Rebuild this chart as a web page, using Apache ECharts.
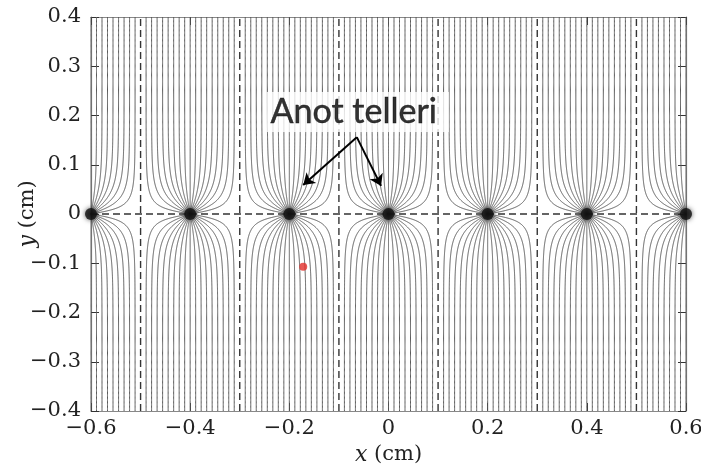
<!DOCTYPE html>
<html>
<head>
<meta charset="utf-8">
<script src="https://cdn.jsdelivr.net/npm/echarts@6/dist/echarts.min.js"></script>
<style>
html, body { margin: 0; padding: 0; background: #fff; }
#chart { width: 701px; height: 469px; }
</style>
</head>
<body>
<div id="chart"></div>
<script>
// anode wires (cm), all at y = 0
const wireX = [-0.6, -0.4, -0.2, 0, 0.2, 0.4, 0.6]
const wirePitch = 0.2
// x of each field line far from the plane, relative to its wire (cm)
const lineOffsets = [-0.0889, -0.0778, -0.0667, -0.0556, -0.0444, -0.0333, -0.0222, -0.0111, 0,
  0.0111, 0.0222, 0.0333, 0.0444, 0.0556, 0.0667, 0.0778, 0.0889]
// cell boundaries (dashed)
const cellEdges = [-0.5, -0.3, -0.1, 0.1, 0.3, 0.5]
const redPoint = [-0.172, -0.107]
const noteText = 'Anot telleri'
const notePos = [-0.062, 0.207]
const arrowFrom = [-0.064, 0.156]
const arrowTo = [[-0.172, 0.059], [-0.015, 0.057]]
const xRange = [-0.6, 0.6]
const yRange = [-0.4, 0.4]

// field line of a wire row: tanh(b) = tan(a) / tan(a_inf), a = pi x / pitch, b = pi y / pitch
const fieldLine = (xw, off, sign) => {
  const k = Math.PI / wirePitch
  const tanInf = Math.tan(off * k)
  const bMax = yRange[1] * k
  const pts = []
  for (let i = 0; i <= 300; i++) {
    const b = bMax * Math.pow(i / 300, 2)
    const a = Math.atan(Math.tanh(b) * tanInf)
    pts.push([xw + a / k, sign * b / k])
  }
  return pts
}

const fieldLines = []
wireX.forEach(xw => {
  lineOffsets.forEach(off => {
    const xe = xw + off
    if (xe < xRange[0] - 1e-9 || xe > xRange[1] + 1e-9) return
    fieldLines.push({ coords: fieldLine(xw, off, 1) })
    fieldLines.push({ coords: fieldLine(xw, off, -1) })
  })
})

const dashLines = cellEdges.map(x => ({ coords: [[x, yRange[0]], [x, yRange[1]]] }))
dashLines.push({ coords: [[xRange[0], 0], [xRange[1], 0]] })

const fmt = v => String(Math.round(v * 10) / 10).replace('-', '\u2212')
const serif = 'DejaVu Serif'
const labelStyle = { formatter: fmt, fontFamily: serif, fontSize: 21, color: '#222' }
const nameStyle = {
  fontFamily: serif, fontSize: 21, color: '#222',
  rich: { i: { fontFamily: serif, fontStyle: 'italic', fontSize: 22, color: '#222' } }
}
const frame = { show: true, onZero: false, lineStyle: { color: '#888', width: 1.2 } }
const ticks = { show: true, inside: true, length: 8, lineStyle: { color: '#333' } }

const chart = echarts.init(document.getElementById('chart'))
chart.setOption({
  animation: false,
  backgroundColor: '#fff',
  grid: { left: 91, right: 15, top: 17, bottom: 58, outerBoundsMode: 'none', containLabel: false },
  xAxis: [
    {
      type: 'value', min: xRange[0], max: xRange[1], interval: 0.2, position: 'bottom',
      axisLine: frame, axisTick: ticks, splitLine: { show: false },
      axisLabel: { ...labelStyle, margin: 7 },
      name: '{i|x} (cm)', nameLocation: 'middle', nameGap: 33, nameTextStyle: nameStyle
    },
    {
      type: 'value', min: xRange[0], max: xRange[1], interval: 0.2, position: 'top',
      axisLine: frame, axisTick: ticks, splitLine: { show: false }, axisLabel: { show: false }
    }
  ],
  yAxis: [
    {
      type: 'value', min: yRange[0], max: yRange[1], interval: 0.1, position: 'left',
      axisLine: frame, axisTick: ticks, splitLine: { show: false },
      axisLabel: { ...labelStyle, margin: 10 },
      name: '{i|y} (cm)', nameLocation: 'middle', nameGap: 52, nameRotate: 90,
      nameMoveOverlap: false, nameTextStyle: nameStyle
    },
    {
      type: 'value', min: yRange[0], max: yRange[1], interval: 0.1, position: 'right',
      axisLine: frame, axisTick: ticks, splitLine: { show: false }, axisLabel: { show: false }
    }
  ],
  series: [
    {
      type: 'lines', coordinateSystem: 'cartesian2d', polyline: true, silent: true,
      data: fieldLines,
      lineStyle: { color: '#5a5a5a', width: 1, opacity: 1 }
    },
    {
      type: 'lines', coordinateSystem: 'cartesian2d', polyline: true, silent: true,
      data: dashLines,
      lineStyle: { color: '#333', width: 1.4, opacity: 1, type: [7, 4] }
    },
    {
      type: 'scatter', silent: true,
      data: wireX.map(x => [x, 0]),
      symbolSize: 12,
      itemStyle: { color: '#111', shadowBlur: 5, shadowColor: 'rgba(0,0,0,0.8)' }
    },
    {
      type: 'scatter', silent: true,
      data: [redPoint],
      symbolSize: 8,
      itemStyle: { color: '#e2302b' }
    },
    {
      type: 'scatter', silent: true, z: 5,
      data: [notePos],
      symbolSize: 0,
      label: {
        show: true, position: 'inside', formatter: noteText,
        fontFamily: 'Lato', fontSize: 34, color: '#000',
        textBorderColor: '#000', textBorderWidth: 0.5,
        backgroundColor: '#fff', padding: [4, 12, 2, 4]
      },
      markLine: {
        silent: true, symbol: ['none', 'arrow'], symbolSize: 11,
        label: { show: false },
        lineStyle: { color: '#000', width: 2, type: 'solid' },
        data: arrowTo.map(p => [{ coord: arrowFrom }, { coord: p }])
      }
    }
  ]
})
</script>
</body>
</html>
